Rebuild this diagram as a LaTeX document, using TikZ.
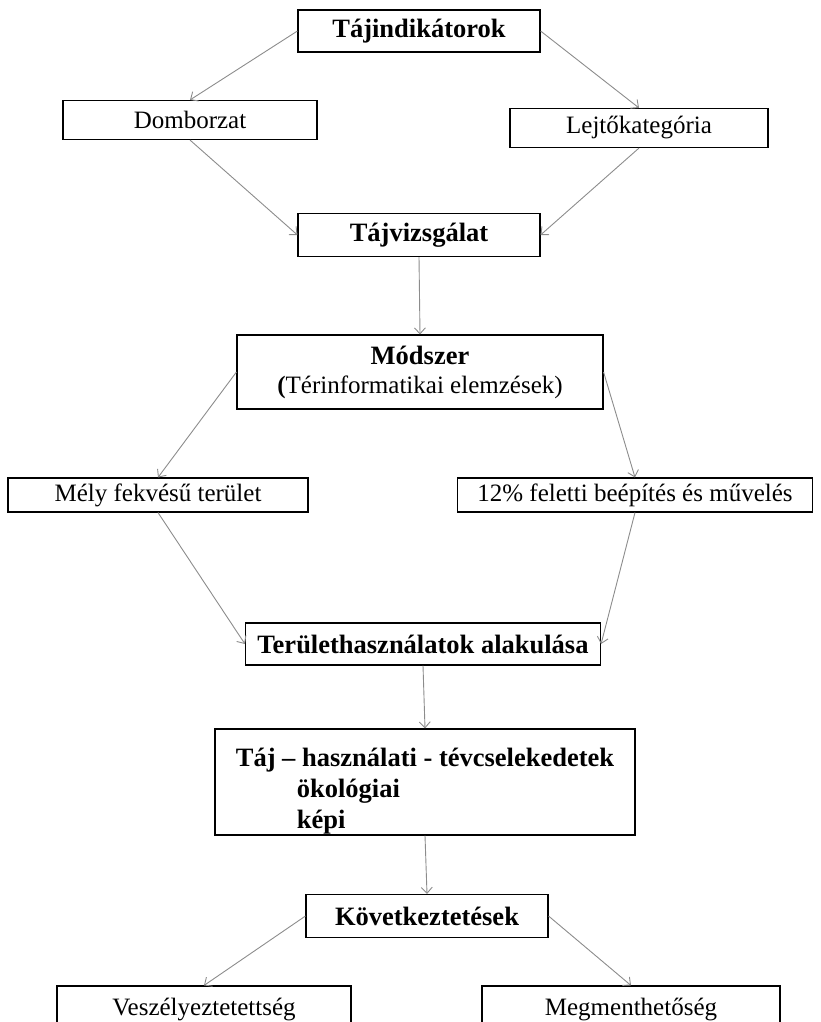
\documentclass[tikz,border=0pt]{standalone}
\usepackage{fontspec}
\setmainfont{Liberation Serif}
\usepackage{tikz}
\usetikzlibrary{positioning, arrows.meta}
\newcommand{\NormalSize}{\fontsize{25}{30}\selectfont}
\newcommand{\BoldSize}{\fontsize{26.5}{31}\selectfont\bfseries}

\tikzset{
  box/.style={draw=black, line width=1.1pt, inner sep=0pt, align=center, font=\NormalSize},
  boldbox/.style={box, font=\BoldSize},
  arr/.style={draw=gray!90, line width=0.9pt, -{Straight Barb[length=6pt,width=11pt]}}
}

\begin{document}
\begin{tikzpicture}[x=1pt, y=-1pt]
                  \useasboundingbox (0,0) rectangle (820,1022);

                  % top of the chart
                  \node[boldbox, minimum width=242pt, minimum height=42pt] (ind) at (419,31) {Tájindikátorok};
                  \node[box, minimum width=254pt, minimum height=39pt] (dom) at (190,120) {Domborzat};
                  \node[box, minimum width=258pt, minimum height=39pt] (lejto) at (639,128) {Lejtőkategória};
                  \node[boldbox, minimum width=242pt, minimum height=43pt] (vizsg) at (419,235) {Tájvizsgálat};

                  % method
                  \node[box, minimum width=366pt, minimum height=74pt] (mod) at (420,372)
                      {{\BoldSize Módszer}\\[-1pt]\textbf{(}Térinformatikai elemzések)};
                  \node[box, minimum width=300pt, minimum height=34pt] (mely) at (158,495) {Mély fekvésű terület};
                  \node[box, minimum width=355pt, minimum height=34pt] (felett) at (635,495) {12\% feletti beépítés és művelés};
                  \node[boldbox, minimum width=355pt, minimum height=42pt] (ter) at (423,644) {Területhasználatok alakulása};

                  % mistakes and conclusions
                  \node[boldbox, align=left, minimum width=420pt, minimum height=106pt] (taj) at (425,782)
                      {\rule{0pt}{36pt}Táj – használati - tévcselekedetek\\\hspace*{61pt}ökológiai\\\hspace*{61pt}képi};
                  \node[boldbox, minimum width=242pt, minimum height=43pt] (kov) at (427,916) {Következtetések};
                  \node[box, minimum width=294pt, minimum height=46pt] (vesz) at (204,1009) {Veszélyeztetettség};
                  \node[box, minimum width=298pt, minimum height=46pt] (megm) at (631,1009) {Megmenthetőség};

                  % draw arrows
                  \foreach \from/\to in {ind.west/dom.north, ind.east/lejto.north, dom.south/vizsg.west,
                      lejto.south/vizsg.east, vizsg.south/mod.north, mod.west/mely.north, mod.east/felett.north,
                      mely.south/ter.west, felett.south/ter.east, ter.south/taj.north, taj.south/kov.north,
                      kov.west/vesz.north, kov.east/megm.north}
                  \draw[arr] (\from) -- (\to);

              \end{tikzpicture}
\end{document}
